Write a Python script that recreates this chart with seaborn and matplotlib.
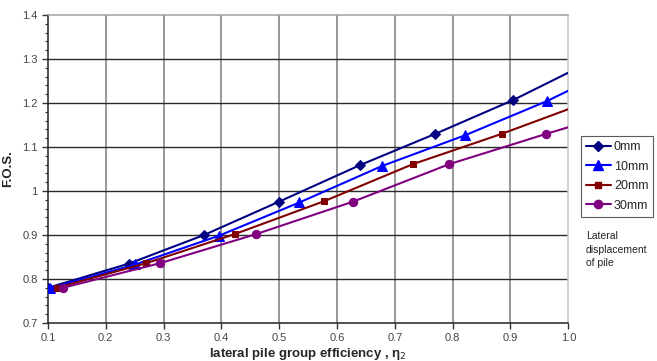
import matplotlib
matplotlib.use("Agg")
import matplotlib.pyplot as plt
import seaborn as sns
import pandas as pd
from matplotlib.ticker import MultipleLocator
from matplotlib.lines import Line2D

# data (last point of each series is the line end at x=1.0, drawn without marker)
x_0mm = [0.10, 0.24, 0.37, 0.50, 0.64, 0.77, 0.905, 1.0]
y_0mm = [0.780, 0.835, 0.900, 0.976, 1.059, 1.130, 1.207, 1.269]
x_10mm = [0.104, 0.251, 0.395, 0.535, 0.678, 0.822, 0.964, 1.0]
y_10mm = [0.779, 0.833, 0.898, 0.974, 1.057, 1.127, 1.205, 1.228]
x_20mm = [0.115, 0.27, 0.423, 0.578, 0.731, 0.885, 1.0]
y_20mm = [0.780, 0.836, 0.902, 0.977, 1.061, 1.130, 1.186]
x_30mm = [0.126, 0.294, 0.46, 0.628, 0.794, 0.962, 1.0]
y_30mm = [0.780, 0.836, 0.902, 0.976, 1.061, 1.130, 1.145]
labels = ["0mm", "10mm", "20mm", "30mm"]

sns.set_style("white")
plt.rcParams['font.family'] = ['Liberation Sans', 'DejaVu Sans']

fig = plt.figure(figsize=(6.57, 3.61), dpi=100)
ax = fig.add_axes([0.073, 0.1053, 0.792, 0.853])

series = [
    (x_0mm, y_0mm, "#000080", "D", 5),
    (x_10mm, y_10mm, "#0000FF", "^", 7),
    (x_20mm, y_20mm, "#800000", "s", 5),
    (x_30mm, y_30mm, "#800080", "o", 6),
]
handles = []
for (xs, ys, c, m, ms), lab in zip(series, labels):
    df = pd.DataFrame({"x": xs, "y": ys})
    sns.lineplot(data=df, x="x", y="y", ax=ax, color=c, linewidth=1.5,
                 marker=m, markersize=ms, markeredgecolor=c, markerfacecolor=c,
                 markevery=list(range(len(xs) - 1)), sort=False, zorder=3)
    handles.append(Line2D([0], [0], color=c, lw=1.5, marker=m, markersize=ms,
                          markerfacecolor=c, markeredgecolor=c, label=lab))

ax.set_xlim(0.1, 1.0)
ax.set_ylim(0.7, 1.4)
ax.xaxis.set_major_locator(MultipleLocator(0.1))
ax.yaxis.set_major_locator(MultipleLocator(0.1))
ax.yaxis.set_minor_locator(MultipleLocator(0.02))
ax.set_xticks(ax.get_xticks())
ax.set_xticklabels([f"{v:.1f}" for v in ax.get_xticks()])
ax.set_yticks(ax.get_yticks())
ax.set_yticklabels([f"{round(v, 1):g}" for v in ax.get_yticks()])
ax.set_xlim(0.1, 1.0)
ax.set_ylim(0.7, 1.4)
ax.tick_params(axis='both', which='major', direction='out', length=4, width=1,
               color='#333333', labelsize=8, labelcolor='#444444', bottom=True, left=True)
ax.tick_params(axis='y', which='minor', direction='out', length=2.5, width=0.8,
               color='#333333', left=True)

ax.grid(False)
for v in [0.2, 0.3, 0.4, 0.5, 0.6, 0.7, 0.8, 0.9]:
    ax.axvline(v, color='#7a7a7a', lw=1.1, zorder=1)
for v in [0.8, 0.9, 1.0, 1.1, 1.2, 1.3]:
    ax.axhline(v, color='#2a2a2a', lw=1.0, zorder=1)

ax.spines['left'].set_color('#222222')
ax.spines['bottom'].set_color('#222222')
ax.spines['top'].set_color('#a0a0a0')
ax.spines['right'].set_color('#c8c8c8')
for s in ax.spines.values():
    s.set_linewidth(1.1)

ax.set_xlabel("lateral pile group efficiency , η$_2$", fontsize=9.5, fontweight='bold', labelpad=2)
ax.set_ylabel("F.O.S.", fontsize=9.5, fontweight='bold', labelpad=6)

leg = fig.legend(handles=handles, loc='upper left', bbox_to_anchor=(0.884, 0.623),
                 frameon=True, fontsize=9, handlelength=2.0, handletextpad=0.25,
                 borderpad=0.4, labelspacing=0.6, fancybox=False, borderaxespad=0)
leg.get_frame().set_edgecolor('#333333')
leg.get_frame().set_linewidth(0.8)

fig.text(0.892, 0.36, "Lateral\ndisplacement\nof pile", fontsize=7.5, va='top', ha='left',
         color='#222222', linespacing=1.45)

fig.savefig("out.png", dpi=100)
